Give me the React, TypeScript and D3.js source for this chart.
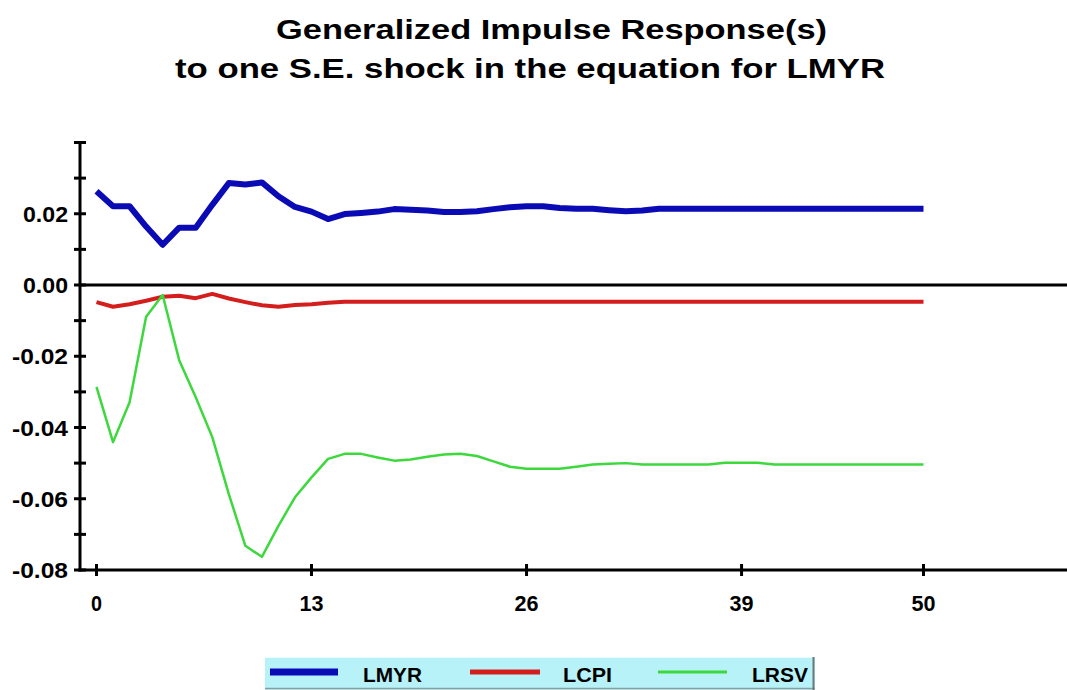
import React from "react";
import * as d3 from "d3";

const periods: number[] = d3.range(0, 51);

const lmyr: number[] = [
  0.0263, 0.0221, 0.0221, 0.0164, 0.0113, 0.0161, 0.0161, 0.0225, 0.0286, 0.0282,
  0.0288, 0.0249, 0.0219, 0.0206, 0.0185, 0.0199, 0.0202, 0.0206, 0.0213, 0.0211,
  0.0209, 0.0205, 0.0205, 0.0207, 0.0213, 0.0218, 0.0221, 0.0221, 0.0216, 0.0214,
  0.0214, 0.0210, 0.0207, 0.0209, 0.0214, 0.0214, 0.0214, 0.0214, 0.0214, 0.0214,
  0.0214, 0.0214, 0.0214, 0.0214, 0.0214, 0.0214, 0.0214, 0.0214, 0.0214, 0.0214,
  0.0214,
];

const lcpi: number[] = [
  -0.0048, -0.0061, -0.0054, -0.0044, -0.0033, -0.0030, -0.0037, -0.0025, -0.0038, -0.0048,
  -0.0057, -0.0061, -0.0056, -0.0054, -0.0050, -0.0047, -0.0047, -0.0047, -0.0047, -0.0047,
  -0.0047, -0.0047, -0.0047, -0.0047, -0.0047, -0.0047, -0.0047, -0.0047, -0.0047, -0.0047,
  -0.0047, -0.0047, -0.0047, -0.0047, -0.0047, -0.0047, -0.0047, -0.0047, -0.0047, -0.0047,
  -0.0047, -0.0047, -0.0047, -0.0047, -0.0047, -0.0047, -0.0047, -0.0047, -0.0047, -0.0047,
  -0.0047,
];

const lrsv: number[] = [
  -0.0286, -0.0441, -0.0329, -0.0089, -0.0028, -0.0211, -0.0315, -0.0427, -0.0587, -0.0732,
  -0.0763, -0.0676, -0.0596, -0.0540, -0.0488, -0.0474, -0.0474, -0.0484, -0.0493, -0.0490,
  -0.0482, -0.0476, -0.0474, -0.0480, -0.0495, -0.0510, -0.0516, -0.0516, -0.0516, -0.0510,
  -0.0504, -0.0502, -0.0500, -0.0504, -0.0504, -0.0504, -0.0504, -0.0504, -0.0499, -0.0499,
  -0.0499, -0.0504, -0.0504, -0.0504, -0.0504, -0.0504, -0.0504, -0.0504, -0.0504, -0.0504,
  -0.0504,
];

const seriesNames: string[] = ["LMYR", "LCPI", "LRSV"];
const seriesColors: string[] = ["#0b0bb5", "#d41e1e", "#3cd83c"];
const seriesWidths: number[] = [6, 4, 2.5];
const legendWidths: number[] = [7, 5, 3];

const xTickValues: number[] = [0, 13, 26, 39, 50];
const yTickValues: number[] = [0.04, 0.03, 0.02, 0.01, 0, -0.01, -0.02, -0.03, -0.04, -0.05, -0.06, -0.07, -0.08];
const yLabelValues: number[] = [0.02, 0, -0.02, -0.04, -0.06, -0.08];

const titleLines: string[] = [
  "Generalized Impulse Response(s)",
  "to one S.E. shock in the equation for LMYR",
];

export default function App() {
  const W = 1067;
  const H = 690;
  const x = d3.scaleLinear().domain([0, 50]).range([96.5, 923.5]);
  const y = d3.scaleLinear().domain([-0.08, 0.04]).range([570, 142.5]);
  const axisX = 80;
  const axisRight = 1067;

  const allSeries = [lmyr, lcpi, lrsv];
  const line = d3
    .line<number>()
    .x((_, i) => x(periods[i]))
    .y((d) => y(d));

  const font = "'Liberation Sans', Arial, Helvetica, sans-serif";

  const legendItems = [
    { lx1: 270, lx2: 338, tx: 363, tw: 59 },
    { lx1: 470, lx2: 540, tx: 563, tw: 49 },
    { lx1: 658, lx2: 727, tx: 752, tw: 56 },
  ];

  return (
    <svg
      width={W}
      height={H}
      style={{ position: "absolute", left: 0, top: 0, background: "#ffffff" }}
      fontFamily={font}
    >
      <rect x={0} y={0} width={W} height={H} fill="#ffffff" />
      {/* Title */}
      <text x={276} y={39} fontSize={27} fontWeight="bold" fill="#000" textLength={551} lengthAdjust="spacingAndGlyphs">
        {titleLines[0]}
      </text>
      <text x={175} y={78} fontSize={27} fontWeight="bold" fill="#000" textLength={710} lengthAdjust="spacingAndGlyphs">
        {titleLines[1]}
      </text>

      {/* Series */}
      {allSeries.map((s, i) => (
        <path
          key={seriesNames[i]}
          d={line(s) || ""}
          fill="none"
          stroke={seriesColors[i]}
          strokeWidth={seriesWidths[i]}
          strokeLinejoin="round"
          strokeLinecap="butt"
        />
      ))}

      {/* Zero line */}
      <line x1={axisX} x2={axisRight} y1={y(0)} y2={y(0)} stroke="#000" strokeWidth={3} />

      {/* Y axis */}
      <line x1={axisX} x2={axisX} y1={y(0.04)} y2={y(-0.08) + 1.5} stroke="#000" strokeWidth={3} />
      {yTickValues.map((v) => (
        <line key={"yt" + v} x1={axisX - 6} x2={axisX + 6} y1={y(v)} y2={y(v)} stroke="#000" strokeWidth={3} />
      ))}
      {yLabelValues.map((v) => {
        const label = d3.format(".2f")(v).replace("−", "-");
        return (
          <text
            key={"yl" + v}
            x={68}
            y={y(v) + 8}
            fontSize={22}
            fontWeight="bold"
            textAnchor="end"
            fill="#000"
            textLength={label.startsWith("-") ? 56 : 45}
            lengthAdjust="spacingAndGlyphs"
          >
            {label}
          </text>
        );
      })}

      {/* X axis */}
      <line x1={axisX - 1.5} x2={axisRight} y1={y(-0.08)} y2={y(-0.08)} stroke="#000" strokeWidth={3} />
      {xTickValues.map((v) => (
        <line key={"xt" + v} x1={x(v)} x2={x(v)} y1={y(-0.08) - 6} y2={y(-0.08) + 6} stroke="#000" strokeWidth={3} />
      ))}
      {xTickValues.map((v) => (
        <text
          key={"xl" + v}
          x={x(v)}
          y={611}
          fontSize={22}
          fontWeight="bold"
          textAnchor="middle"
          fill="#000"
          textLength={String(v).length > 1 ? 24 : 11}
          lengthAdjust="spacingAndGlyphs"
        >
          {String(v)}
        </text>
      ))}

      {/* Legend */}
      <rect x={265} y={657} width={550} height={33} fill="#b6f2f8" />
      <line x1={265} x2={815} y1={657.5} y2={657.5} stroke="#e8fbfd" strokeWidth={1} />
      <line x1={265} x2={815} y1={688.5} y2={688.5} stroke="#8a9ea0" strokeWidth={1.5} />
      <line x1={813.5} x2={813.5} y1={657} y2={690} stroke="#6a7a7c" strokeWidth={2} />
      {legendItems.map((it, i) => (
        <g key={"lg" + i}>
          <line x1={it.lx1} x2={it.lx2} y1={672} y2={672} stroke={seriesColors[i]} strokeWidth={legendWidths[i]} />
          <text
            x={it.tx}
            y={682}
            fontSize={21}
            fontWeight="bold"
            fill="#000"
            textLength={it.tw}
            lengthAdjust="spacingAndGlyphs"
          >
            {seriesNames[i]}
          </text>
        </g>
      ))}
    </svg>
  );
}
